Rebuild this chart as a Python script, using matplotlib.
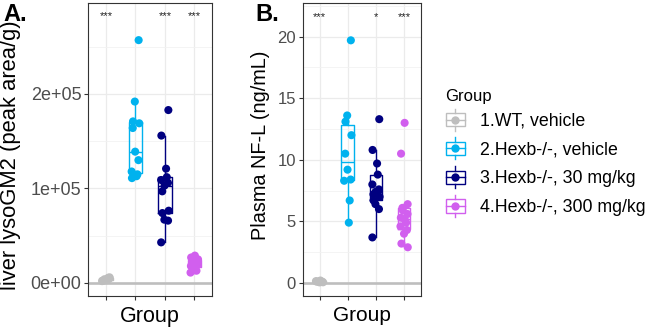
import numpy as np
import matplotlib
matplotlib.use('Agg')
import matplotlib.pyplot as plt
from matplotlib.legend_handler import HandlerBase
from matplotlib.patches import Rectangle
from matplotlib.lines import Line2D

plt.rcParams['font.family'] = ['Liberation Sans', 'DejaVu Sans']

groups = ['1.WT, vehicle', '2.Hexb-/-, vehicle', '3.Hexb-/-, 30 mg/kg', '4.Hexb-/-, 300 mg/kg']
colors = ['#BEBEBE', '#00B2EE', '#000080', '#D15FEE']

# liver lysoGM2 (peak area/g)
lyso_wt = [3000, 4500, 2000, 5500, 3500, 2500, 6000, 4000, 3000, 5000]
lyso_veh = [257000, 192000, 171000, 169000, 164000, 139000, 130000, 118000, 115000, 113000, 111000]
lyso_30 = [183000, 156000, 121000, 112000, 109000, 106000, 103000, 97000, 76500, 74000, 67000, 66000, 43000]
lyso_300 = [29000, 27000, 25000, 23000, 21000, 20000, 18000, 16000, 13000, 11000]
lyso_stars = ['***', '', '***', '***']

# plasma NF-L (ng/mL)
nfl_wt = [0.05, 0.1, 0.15, 0.08, 0.2, 0.12, 0.06, 0.1]
nfl_veh = [19.7, 13.6, 13.1, 12.0, 10.5, 9.2, 8.4, 8.3, 6.7, 4.9]
nfl_30 = [13.3, 10.8, 9.7, 8.8, 8.0, 7.6, 7.4, 7.2, 7.0, 6.7, 6.4, 6.0, 3.7]
nfl_300 = [13.0, 10.5, 6.4, 6.1, 5.9, 5.6, 5.3, 5.1, 4.9, 4.6, 4.3, 4.0, 3.2, 2.9]
nfl_stars = ['***', '', '*', '***']

W, H = 649, 327
fig = plt.figure(figsize=(W / 100, H / 100), dpi=100)
axA = fig.add_axes([88.3 / W, 1 - 296 / H, 123.7 / W, 293 / H])
axB = fig.add_axes([302.7 / W, 1 - 296 / H, 118.3 / W, 293 / H])


def spread(n, k):
    # fixed horizontal jitter pattern
    return 0.13 * np.sin(np.arange(n) * 2.3 + k)


def panel(ax, data, stars, ylim, yticks, yminor, ylabels, star_y, tick_size, xlab_size):
    ax.set_xlim(0.4, 4.6)
    ax.set_ylim(*ylim)
    ax.axhline(0, color='#BEBEBE', lw=1.9, zorder=1.5)
    bp = ax.boxplot(data, positions=[1, 2, 3, 4], widths=0.45, showfliers=False,
                    showcaps=False, zorder=2)
    for i, c in enumerate(colors):
        bp['boxes'][i].set(color=c, lw=1.0)
        bp['medians'][i].set(color=c, lw=1.0)
        for w in bp['whiskers'][2 * i:2 * i + 2]:
            w.set(color=c, lw=1.0)
    for i, (vals, c) in enumerate(zip(data, colors)):
        x = i + 1 + spread(len(vals), i)
        ax.scatter(x, vals, s=34, color=c, edgecolors='none', zorder=3)
        if stars[i]:
            ax.text(i + 1, star_y, stars[i], ha='center', va='center', fontsize=8,
                    color='#222222')
    ax.set_xticks([1, 2, 3, 4])
    ax.set_xticklabels([])
    ax.set_yticks(yticks)
    ax.set_yticklabels(ylabels)
    ax.set_yticks(yminor, minor=True)
    ax.tick_params(which='major', length=3, width=0.8, color='#333333',
                   labelsize=tick_size, labelcolor='#4D4D4D', pad=2)
    ax.tick_params(which='minor', length=0)
    ax.grid(True, which='major', color='#EBEBEB', lw=0.9)
    ax.grid(True, which='minor', axis='y', color='#F2F2F2', lw=0.6)
    ax.set_axisbelow(True)
    for s in ax.spines.values():
        s.set_color('#333333')
        s.set_linewidth(0.8)
    ax.set_xlabel('Group', fontsize=xlab_size, labelpad=2)


panel(axA, [lyso_wt, lyso_veh, lyso_30, lyso_300], lyso_stars,
      (-13757, 296296), [0, 100000, 200000], [50000, 150000, 250000],
      ['0e+00', '1e+05', '2e+05'], 282500, 13, 15.5)
axA.set_ylabel('liver lysoGM2 (peak area/g)', fontsize=15.8)
axA.yaxis.set_label_coords(-0.545, 0.48)

panel(axB, [nfl_wt, nfl_veh, nfl_30, nfl_300], nfl_stars,
      (-1.055, 22.73), [0, 5, 10, 15, 20], [2.5, 7.5, 12.5, 17.5, 22.5],
      ['0', '5', '10', '15', '20'], 21.6, 12, 15)
axB.set_ylabel('Plasma NF-L (ng/mL)', fontsize=14.3)
axB.yaxis.set_label_coords(-0.28, 0.515)

fig.text(3 / W, 1 - 3 / H, 'A.', fontweight='bold', fontsize=17, va='top')
fig.text(255 / W, 1 - 3 / H, 'B.', fontweight='bold', fontsize=17, va='top')


class BoxKey(HandlerBase):
    def create_artists(self, legend, orig_handle, xdescent, ydescent,
                       width, height, fontsize, trans):
        c = orig_handle.get_color()
        x0, y0 = -xdescent, -ydescent
        cx = x0 + width / 2
        box = Rectangle((x0 + 0.5, y0 + 0.25 * height), width - 1, 0.5 * height,
                        fill=False, ec=c, lw=1.0, transform=trans)
        wl = Line2D([cx, cx], [y0 + 0.08 * height, y0 + 0.25 * height], color=c, lw=1.0,
                    transform=trans)
        wu = Line2D([cx, cx], [y0 + 0.75 * height, y0 + 0.92 * height], color=c, lw=1.0,
                    transform=trans)
        med = Line2D([x0 + 0.5, x0 + width - 0.5], [y0 + 0.5 * height] * 2, color=c,
                     lw=1.0, transform=trans)
        dot = Line2D([cx], [y0 + 0.5 * height], marker='o', ms=6, color=c,
                     mec='none', transform=trans)
        return [box, wl, wu, med, dot]


handles = [Line2D([], [], color=c) for c in colors]
fig.legend(handles, groups, handler_map={Line2D: BoxKey()}, loc='upper left',
           bbox_to_anchor=(445 / W, 1 - 89 / H), frameon=False, title='Group',
           title_fontsize=12, fontsize=12.8, alignment='left', borderpad=0,
           borderaxespad=0, handlelength=1.18, handleheight=1.9, labelspacing=0.14,
           handletextpad=0.77)

fig.savefig('out.png', dpi=100)
